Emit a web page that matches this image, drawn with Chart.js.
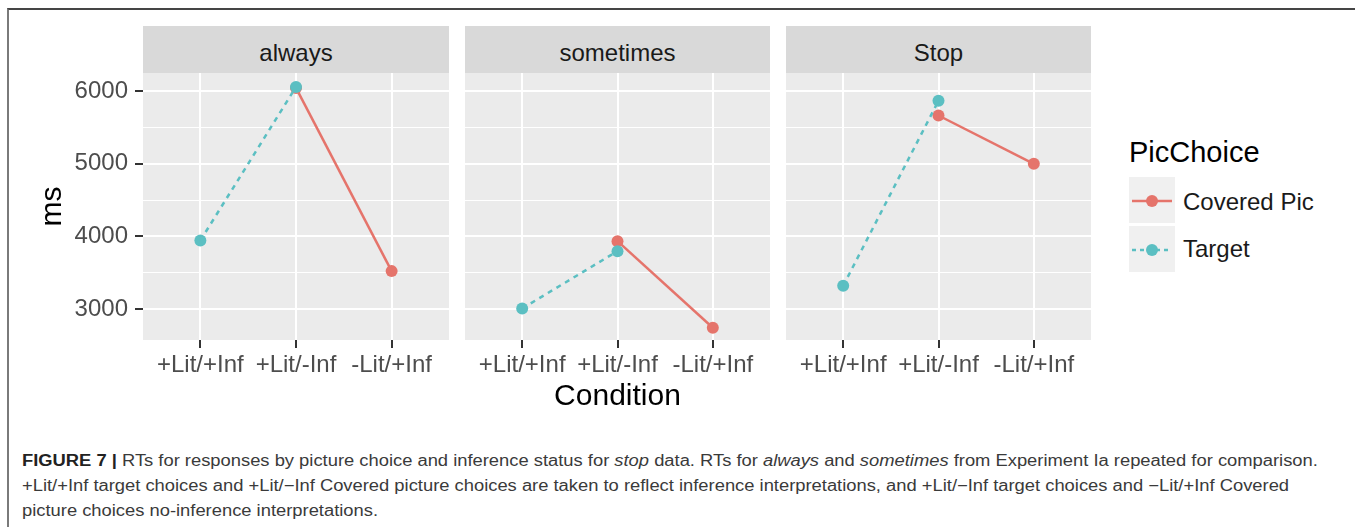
<!DOCTYPE html>
<html>
<head>
<meta charset="utf-8">
<script src="https://cdn.jsdelivr.net/npm/chart.js@4"></script>
<style>
    body { margin: 0; background: #fff; font-family: "Liberation Sans", Arial, Helvetica, sans-serif; }
    #page { position: relative; width: 1355px; height: 527px; overflow: hidden; }
    #frame { position: absolute; left: 7px; top: 8px; right: -5px; bottom: -5px;
             border-top: 2px solid #454545; border-left: 2px solid #7a7a7a; }
    canvas { position: absolute; }
    .strip { position: absolute; top: 26px; height: 47px; background: #d9d9d9; color: #1a1a1a;
             font-size: 24px; text-align: center; line-height: 47px; box-sizing: border-box; padding-top: 3px; }
    .legTitle { position: absolute; left: 1129px; top: 135px; font-size: 29px; color: #000; line-height: 34px; }
    .legText { position: absolute; left: 1183px; font-size: 24px; color: #1a1a1a; line-height: 30px; }
    #caption { position: absolute; left: 22px; top: 448px; font-size: 16px; line-height: 25px;
               color: #3a3a3a; white-space: nowrap; transform: scaleX(1.147); transform-origin: 0 0; }
    #caption b { color: #222; }
</style>
</head>
<body>
<div id="page">
    <div id="frame"></div>

    <div class="strip" id="strip0" style="left:143px;width:306px;"></div>
    <div class="strip" id="strip1" style="left:465px;width:305px;"></div>
    <div class="strip" id="strip2" style="left:786px;width:305px;"></div>

    <canvas id="panel0" width="429" height="317" style="left:20px;top:73px;"></canvas>
    <canvas id="panel1" width="305" height="342" style="left:465px;top:73px;"></canvas>
    <canvas id="panel2" width="305" height="317" style="left:786px;top:73px;"></canvas>

    <div class="legTitle" id="legTitle"></div>
    <canvas id="key0" width="46" height="46" style="left:1129px;top:177px;"></canvas>
    <canvas id="key1" width="46" height="46" style="left:1129px;top:226px;"></canvas>
    <div class="legText" id="legText0" style="top:187px;"></div>
    <div class="legText" id="legText1" style="top:234px;"></div>

    <div id="caption">
        <b>FIGURE 7 |</b> RTs for responses by picture choice and inference status for <i>stop</i> data. RTs for <i>always</i> and <i>sometimes</i> from Experiment Ia repeated for comparison.<br>
        +Lit/+Inf target choices and +Lit/−Inf Covered picture choices are taken to reflect inference interpretations, and +Lit/−Inf target choices and −Lit/+Inf Covered<br>
        picture choices no-inference interpretations.
    </div>
</div>

<script>
// data (ms)
const conditions = ["+Lit/+Inf", "+Lit/-Inf", "-Lit/+Inf"];
const facets = ["always", "sometimes", "Stop"];
const seriesNames = ["Covered Pic", "Target"];

const alwaysCovered = [null, 6045, 3523];
const alwaysTarget = [3945, 6058, null];
const sometimesCovered = [null, 3935, 2743];
const sometimesTarget = [3009, 3798, null];
const stopCovered = [null, 5665, 5000];
const stopTarget = [3321, 5868, null];

const yTicks = [3000, 3500, 4000, 4500, 5000, 5500, 6000];
const yMin = 2575;
const yMax = 6250;

const RED = "#e5746b";
const CYAN = "#5bbfc2";

const coveredByFacet = [alwaysCovered, sometimesCovered, stopCovered];
const targetByFacet = [alwaysTarget, sometimesTarget, stopTarget];

function toPoints(arr) {
    return arr.map((v, i) => ({ x: i + 1, y: v }));
}

const panelBg = {
    id: "panelBg",
    beforeDraw(chart) {
        const a = chart.chartArea;
        const ctx = chart.ctx;
        ctx.save();
        ctx.fillStyle = "#ebebeb";
        ctx.fillRect(a.left, a.top, a.right - a.left, a.bottom - a.top);
        ctx.restore();
    }
};

function makePanel(idx) {
    const first = idx === 0;
    const middle = idx === 1;

    return new Chart(document.getElementById("panel" + idx), {
        type: "line",
        data: {
            datasets: [{
                label: seriesNames[1],
                data: toPoints(targetByFacet[idx]),
                borderColor: CYAN,
                backgroundColor: CYAN,
                borderWidth: 2.5,
                borderDash: [5, 5],
                pointRadius: 6,
                pointBorderWidth: 0,
                order: 0
            }, {
                label: seriesNames[0],
                data: toPoints(coveredByFacet[idx]),
                borderColor: RED,
                backgroundColor: RED,
                borderWidth: 2.5,
                pointRadius: 6,
                pointBorderWidth: 0,
                order: 1
            }]
        },
        options: {
            responsive: false,
            animation: false,
            layout: { padding: 0, autoPadding: false },
            scales: {
                x: {
                    type: "linear",
                    min: 0.4,
                    max: 3.6,
                    afterBuildTicks: (s) => { s.ticks = conditions.map((c, i) => ({ value: i + 1 })); },
                    afterFit: (s) => {
                        s.height = middle ? 75 : 50;
                        s.paddingLeft = 0;
                        s.paddingRight = 0;
                    },
                    border: { display: false },
                    grid: { color: "#ffffff", lineWidth: 2, tickColor: "#333333", tickLength: 8, tickWidth: 2 },
                    ticks: {
                        autoSkip: false,
                        maxRotation: 0,
                        padding: 3,
                        color: "#4d4d4d",
                        font: { size: 24, family: "Liberation Sans" },
                        callback: (v) => conditions[v - 1]
                    },
                    title: {
                        display: middle,
                        text: "Condition",
                        color: "#000",
                        padding: 0,
                        font: { size: 30, family: "Liberation Sans" }
                    }
                },
                y: {
                    min: yMin,
                    max: yMax,
                    afterBuildTicks: (s) => { s.ticks = yTicks.map(v => ({ value: v })); },
                    afterFit: (s) => {
                        s.width = first ? 123 : 0;
                        s.paddingTop = 0;
                        s.paddingBottom = 0;
                    },
                    border: { display: false },
                    grid: {
                        color: "#ffffff",
                        lineWidth: (c) => (c.tick && c.tick.value % 1000 === 0) ? 2 : 1,
                        drawTicks: first,
                        tickLength: 8,
                        tickWidth: 2,
                        tickColor: (c) => (c.tick && c.tick.value % 1000 === 0) ? "#333333" : "rgba(0,0,0,0)"
                    },
                    ticks: {
                        display: first,
                        padding: 7,
                        color: "#4d4d4d",
                        font: { size: 24, family: "Liberation Sans" },
                        callback: (v) => v % 1000 === 0 ? String(v) : ""
                    },
                    title: {
                        display: first,
                        text: "ms",
                        color: "#000",
                        padding: { top: 15, bottom: 0 },
                        font: { size: 30, family: "Liberation Sans" }
                    }
                }
            },
            plugins: {
                legend: { display: false },
                tooltip: { enabled: false }
            }
        },
        plugins: [panelBg]
    });
}

facets.forEach((f, i) => {
    document.getElementById("strip" + i).textContent = f;
    makePanel(i);
});

// legend, ggplot style keys
document.getElementById("legTitle").textContent = "PicChoice";
[[RED, []], [CYAN, [4, 4]]].forEach((k, i) => {
    document.getElementById("legText" + i).textContent = seriesNames[i];
    const ctx = document.getElementById("key" + i).getContext("2d");
    ctx.fillStyle = "#f0f0f0";
    ctx.fillRect(0, 0, 46, 46);
    ctx.strokeStyle = k[0];
    ctx.lineWidth = 2.5;
    ctx.setLineDash(k[1]);
    ctx.beginPath();
    ctx.moveTo(3, 24);
    ctx.lineTo(43, 24);
    ctx.stroke();
    ctx.fillStyle = k[0];
    ctx.beginPath();
    ctx.arc(23, 24, 6, 0, Math.PI * 2);
    ctx.fill();
});
</script>
</body>
</html>
